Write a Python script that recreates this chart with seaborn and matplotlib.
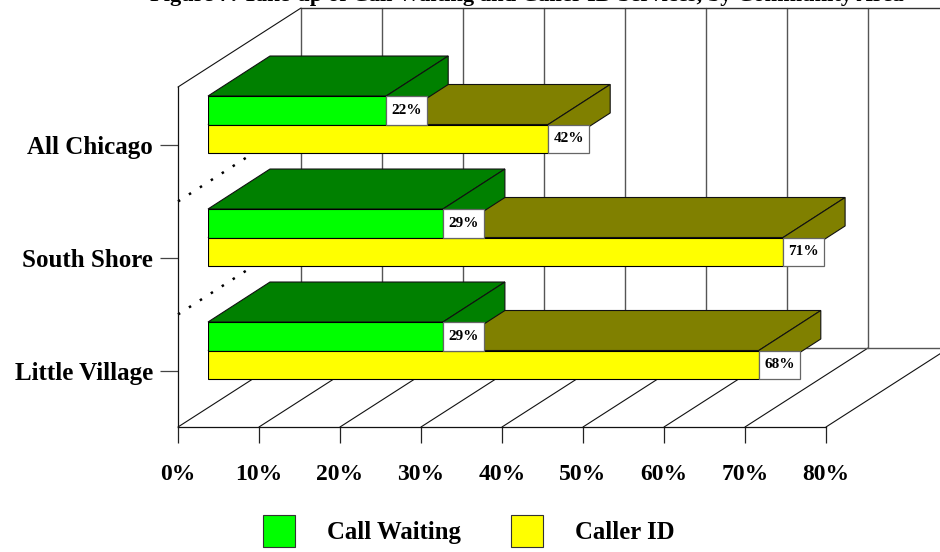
import matplotlib
matplotlib.use("Agg")
import matplotlib.pyplot as plt
from matplotlib.patches import Polygon, Rectangle
import pandas as pd
import seaborn as sns

# values
places = ["All Chicago", "South Shore", "Little Village"]
call_waiting = [22, 29, 29]
caller_id = [42, 71, 68]
x_ticks = [0, 10, 20, 30, 40, 50, 60, 70, 80]
# the reference crops this line at the top edge, so its wording is a guess
title = "Figure 7: Take-up of Call Waiting and Caller ID Services, by Community Area"

W, H = 940, 552
PX_PER_PCT = 8.1
PX_PER_CAT = 113
PT = 0.72  # points per pixel at dpi 100
SERIF = "Liberation Serif"

sns.set_theme(style="white")
plt.rcParams["font.family"] = SERIF
plt.rcParams["font.weight"] = "bold"
plt.rcParams["text.color"] = "black"
plt.rcParams["xtick.labelcolor"] = "black"
plt.rcParams["ytick.labelcolor"] = "black"


def add_axes_px(fig, left, top, right, bottom):
    return fig.add_axes([left / W, 1 - bottom / H, (right - left) / W, (bottom - top) / H])


df = pd.DataFrame({
    "place": places * 2,
    "service": ["Call Waiting"] * 3 + ["Caller ID"] * 3,
    "pct": call_waiting + caller_id,
})

fig = plt.figure(figsize=(W / 100, H / 100), dpi=100)

# the box: left wall, floor and back wall, in the front plane's scales
frame = add_axes_px(fig, 178, 87, 826, 427)
frame.set_xlim(0, 80)
frame.set_ylim(2.496, -0.513)
frame.set_xticks(x_ticks)
frame.set_xticklabels([f"{t}%" for t in x_ticks])
frame.set_yticks(range(3))
frame.set_yticklabels(places)
frame.tick_params(axis="x", length=16 * PT, width=0.9, color="#222222", pad=15, labelsize=17, bottom=True)
frame.tick_params(axis="y", length=18 * PT, width=0.9, color="#444444", pad=5, labelsize=18, left=True)
sns.despine(ax=frame)
for side in ["left", "bottom"]:
    frame.spines[side].set_color("#111111")
    frame.spines[side].set_linewidth(0.9)

back_x = 123 / PX_PER_PCT
floor_top = 2.496 - 79 / PX_PER_CAT
wall_top = floor_top - 340 / PX_PER_CAT
for t in x_ticks:
    frame.plot([t, t + back_x], [2.496, floor_top], color="#111111", lw=0.8, clip_on=False)
    if t + back_x < 90:
        frame.plot([t + back_x] * 2, [floor_top, wall_top], color="#555555", lw=1, clip_on=False)
frame.plot([0, back_x], [-0.513, wall_top], color="#111111", lw=0.8, clip_on=False)
frame.plot([back_x, 95], [wall_top, wall_top], color="#333333", lw=1, clip_on=False)
frame.plot([back_x, 95], [floor_top, floor_top], color="#555555", lw=1, clip_on=False)
for y in [0.5, 1.5]:
    frame.plot([0, back_x], [y, y - 79 / PX_PER_CAT], color="black", lw=1.8,
               ls=(0, (1, 4.2)), clip_on=False)

# the bars sit 30 px in front of the frame origin
ax = add_axes_px(fig, 208, 68, 856, 407)
ax.patch.set_alpha(0)
sns.barplot(data=df, y="place", x="pct", hue="service", order=places, ax=ax, orient="h",
            palette=["#00FF00", "#FFFF00"], width=0.504, gap=0, saturation=1,
            edgecolor="black", linewidth=0.8, zorder=5)
ax.set_xlim(0, 80)
ax.set_ylim(2.5, -0.5)
ax.axis("off")

depth_x = 62 / PX_PER_PCT
depth_y = 40 / PX_PER_CAT
label_w = 41 / PX_PER_PCT
shade = {0: "#008000", 1: "#808000"}
for s, container in enumerate(ax.containers):
    z = 3 if s == 1 else 4
    for bar in container:
        x1 = bar.get_width()
        y0, y1 = bar.get_y(), bar.get_y() + bar.get_height()
        top = [(0, y0), (x1, y0), (x1 + depth_x, y0 - depth_y), (depth_x, y0 - depth_y)]
        side = [(x1, y0), (x1 + depth_x, y0 - depth_y), (x1 + depth_x, y1 - depth_y), (x1, y1)]
        for pts in (top, side):
            ax.add_patch(Polygon(pts, closed=True, fc=shade[s], ec="#111111", lw=0.8, zorder=z, clip_on=False))
        ax.add_patch(Rectangle((x1, y0), label_w, y1 - y0, fc="white", ec="#666666", lw=0.9, zorder=6, clip_on=False))
        ax.text(x1 + label_w / 2, (y0 + y1) / 2, f"{x1:.0f}%", ha="center", va="center",
                fontsize=11, color="black", zorder=7)

# sns legend, sized so the swatches are square
sns.move_legend(ax, "lower left", bbox_to_anchor=(263 / W, 1 - 547 / H),
                bbox_transform=fig.transFigure, ncols=2, frameon=False, title=None,
                fontsize=17.8, handlelength=1.29, handleheight=1.63, handletextpad=1.29,
                columnspacing=2.05, borderpad=0, borderaxespad=0)
for handle in ax.get_legend().get_patches():
    handle.set_edgecolor("#333333")

fig.text(150 / W, 1 - 0.5 / H, title, ha="left", va="baseline", fontsize=16.2, color="black")

fig.savefig("out.png", dpi=100)
